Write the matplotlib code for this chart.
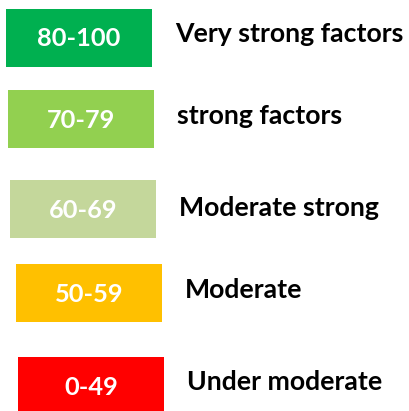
import matplotlib
matplotlib.use("Agg")
import matplotlib.pyplot as plt
from matplotlib.patches import Rectangle

ranges = ["80-100", "70-79", "60-69", "50-59", "0-49"]
descriptions = ["Very strong factors", "strong factors", "Moderate strong", "Moderate", "Under moderate"]
colors = ["#00B050", "#92D050", "#C4D79B", "#FFC000", "#FF0000"]

# layout (pixels)
box_left = [6, 8, 10, 16, 18]
box_top = [9, 90, 180, 264, 357]
box_w = 146
box_h = 58
desc_x = [175, 177, 179, 185, 187]
desc_y = [34, 116, 208, 290, 382]

W, H = 409, 411
fig = plt.figure(figsize=(W / 100, H / 100), dpi=100)
ax = fig.add_axes([0, 0, 1, 1])
ax.set_xlim(0, W)
ax.set_ylim(H, 0)
ax.axis("off")

font = ["Lato", "DejaVu Sans"]
for i, r in enumerate(ranges):
    ax.add_patch(Rectangle((box_left[i], box_top[i]), box_w, box_h,
                           facecolor=colors[i], edgecolor="none"))
    ax.text(box_left[i] + box_w / 2, box_top[i] + box_h / 2 + 1, r,
            color="white", fontsize=18.3, fontweight="bold", family=font,
            ha="center", va="center")
    ax.text(desc_x[i], desc_y[i], descriptions[i], color="black",
            fontsize=19.2, fontweight="bold", family=font,
            ha="left", va="center")

fig.savefig("out.png", dpi=100, facecolor="white")
